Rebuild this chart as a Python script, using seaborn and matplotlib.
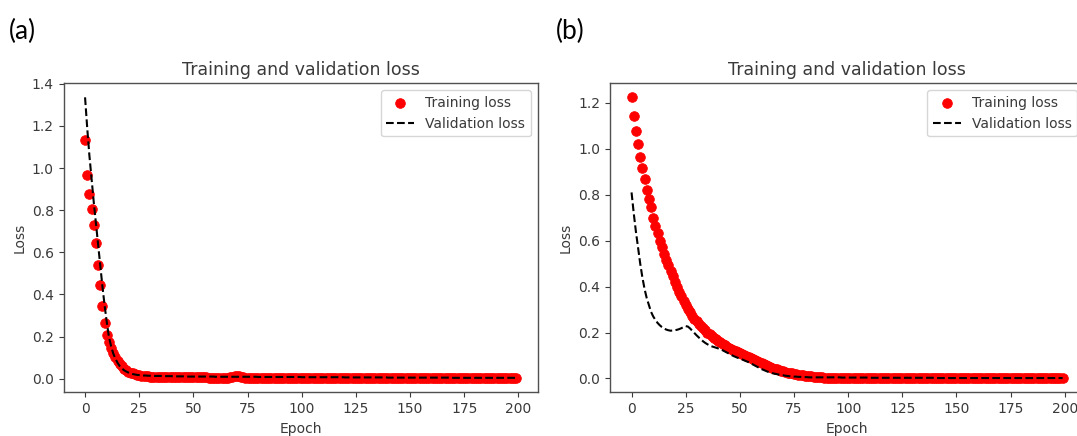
import matplotlib
matplotlib.use("Agg")
import matplotlib.pyplot as plt
import seaborn as sns
import numpy as np

# ---------------- data ----------------
epochs = list(range(200))

train_a = [
    1.134, 0.965, 0.877, 0.808, 0.731, 0.643, 0.540, 0.444, 0.346, 0.265,
    0.206, 0.175, 0.148, 0.124, 0.103, 0.085, 0.070, 0.058, 0.048, 0.040,
    0.034, 0.029, 0.025, 0.021, 0.018, 0.016, 0.014, 0.013, 0.012, 0.011,
    0.010, 0.010, 0.009, 0.009, 0.009, 0.008, 0.008, 0.008, 0.008, 0.007,
    0.007, 0.007, 0.007, 0.007, 0.006, 0.006, 0.006, 0.006, 0.006, 0.006,
    0.006, 0.006, 0.007, 0.008, 0.008, 0.007, 0.006, 0.005, 0.005, 0.005,
    0.005, 0.005, 0.005, 0.005, 0.005, 0.005, 0.005, 0.006, 0.008, 0.011,
    0.013, 0.012, 0.009, 0.006, 0.005, 0.004, 0.004, 0.004, 0.004, 0.004,
    0.004, 0.004, 0.004, 0.004, 0.004, 0.004, 0.003, 0.004, 0.004, 0.003,
    0.003, 0.004, 0.003, 0.003, 0.003, 0.003, 0.003, 0.003, 0.003, 0.003,
    0.003, 0.003, 0.003, 0.003, 0.003, 0.003, 0.003, 0.003, 0.003, 0.003,
    0.003, 0.003, 0.003, 0.003, 0.003, 0.003, 0.003, 0.003, 0.003, 0.003,
    0.003, 0.003, 0.003, 0.003, 0.003, 0.003, 0.003, 0.003, 0.003, 0.003,
    0.003, 0.003, 0.003, 0.003, 0.003, 0.002, 0.003, 0.003, 0.002, 0.002,
    0.002, 0.002, 0.002, 0.002, 0.002, 0.002, 0.002, 0.002, 0.002, 0.002,
    0.002, 0.002, 0.002, 0.002, 0.002, 0.002, 0.002, 0.002, 0.002, 0.002,
    0.002, 0.002, 0.002, 0.002, 0.002, 0.002, 0.002, 0.002, 0.002, 0.002,
    0.002, 0.002, 0.002, 0.002, 0.002, 0.002, 0.002, 0.002, 0.002, 0.002,
    0.002, 0.002, 0.002, 0.002, 0.002, 0.002, 0.002, 0.002, 0.002, 0.002,
    0.002, 0.002, 0.002, 0.002, 0.002, 0.002, 0.002, 0.002, 0.002, 0.002,
]

val_a = [
    1.336, 1.190, 1.060, 0.950, 0.840, 0.740, 0.640, 0.540, 0.440, 0.350,
    0.270, 0.200, 0.155, 0.120, 0.095, 0.075, 0.060, 0.049, 0.040, 0.034,
    0.029, 0.025, 0.022, 0.020, 0.018, 0.017, 0.016, 0.015, 0.015, 0.014,
    0.014, 0.014, 0.013, 0.013, 0.013, 0.013, 0.012, 0.012, 0.012, 0.012,
    0.012, 0.011, 0.011, 0.011, 0.011, 0.011, 0.011, 0.010, 0.010, 0.010,
    0.010, 0.010, 0.010, 0.010, 0.010, 0.010, 0.010, 0.010, 0.010, 0.010,
    0.009, 0.009, 0.009, 0.009, 0.009, 0.009, 0.009, 0.009, 0.009, 0.009,
    0.009, 0.009, 0.009, 0.009, 0.009, 0.009, 0.009, 0.009, 0.009, 0.009,
    0.008, 0.008, 0.008, 0.008, 0.008, 0.008, 0.008, 0.008, 0.008, 0.008,
    0.008, 0.008, 0.008, 0.008, 0.008, 0.008, 0.008, 0.008, 0.008, 0.008,
    0.007, 0.007, 0.007, 0.007, 0.007, 0.007, 0.007, 0.007, 0.007, 0.007,
    0.007, 0.007, 0.007, 0.007, 0.007, 0.007, 0.007, 0.007, 0.007, 0.007,
    0.006, 0.006, 0.006, 0.006, 0.006, 0.006, 0.006, 0.006, 0.006, 0.006,
    0.006, 0.006, 0.006, 0.006, 0.006, 0.006, 0.006, 0.006, 0.006, 0.006,
    0.005, 0.005, 0.005, 0.005, 0.005, 0.005, 0.005, 0.005, 0.005, 0.005,
    0.005, 0.005, 0.005, 0.005, 0.005, 0.005, 0.005, 0.005, 0.005, 0.005,
    0.005, 0.005, 0.005, 0.005, 0.005, 0.005, 0.005, 0.005, 0.005, 0.005,
    0.004, 0.004, 0.004, 0.004, 0.004, 0.004, 0.004, 0.004, 0.004, 0.004,
    0.004, 0.004, 0.004, 0.004, 0.004, 0.004, 0.004, 0.004, 0.004, 0.004,
    0.004, 0.004, 0.004, 0.004, 0.004, 0.004, 0.004, 0.004, 0.004, 0.004,
]

train_b = [
    1.224, 1.144, 1.076, 1.021, 0.966, 0.915, 0.868, 0.819, 0.781, 0.745,
    0.700, 0.665, 0.632, 0.600, 0.571, 0.543, 0.517, 0.492, 0.468, 0.446,
    0.420, 0.398, 0.377, 0.357, 0.338, 0.320, 0.303, 0.288, 0.274, 0.261,
    0.249, 0.238, 0.228, 0.218, 0.209, 0.200, 0.192, 0.184, 0.177, 0.170,
    0.163, 0.157, 0.151, 0.145, 0.139, 0.134, 0.129, 0.124, 0.119, 0.114,
    0.110, 0.106, 0.102, 0.098, 0.094, 0.089, 0.084, 0.079, 0.075, 0.071,
    0.066, 0.062, 0.058, 0.054, 0.050, 0.046, 0.043, 0.040, 0.037, 0.034,
    0.031, 0.028, 0.026, 0.024, 0.022, 0.020, 0.018, 0.016, 0.015, 0.013,
    0.012, 0.011, 0.010, 0.009, 0.008, 0.007, 0.006, 0.006, 0.005, 0.004,
    0.004, 0.003, 0.003, 0.003, 0.002, 0.002, 0.002, 0.002, 0.001, 0.001,
    0.001, 0.001, 0.001, 0.001, 0.001, 0.001, 0.001, 0.001, 0.001, 0.001,
    0.001, 0.001, 0.001, 0.001, 0.001, 0.001, 0.001, 0.001, 0.001, 0.001,
    0.001, 0.001, 0.001, 0.001, 0.001, 0.001, 0.001, 0.001, 0.001, 0.001,
    0.001, 0.001, 0.001, 0.001, 0.001, 0.001, 0.001, 0.001, 0.001, 0.001,
    0.001, 0.001, 0.001, 0.001, 0.001, 0.001, 0.001, 0.001, 0.001, 0.001,
    0.001, 0.001, 0.001, 0.001, 0.001, 0.001, 0.001, 0.001, 0.001, 0.001,
    0.001, 0.001, 0.001, 0.001, 0.001, 0.001, 0.001, 0.001, 0.001, 0.001,
    0.001, 0.001, 0.001, 0.001, 0.001, 0.001, 0.001, 0.001, 0.001, 0.001,
    0.001, 0.001, 0.001, 0.001, 0.001, 0.001, 0.001, 0.001, 0.001, 0.001,
    0.001, 0.001, 0.001, 0.001, 0.001, 0.001, 0.001, 0.001, 0.001, 0.001,
]

val_b = [
    0.810, 0.720, 0.640, 0.570, 0.500, 0.440, 0.390, 0.350, 0.320, 0.290,
    0.270, 0.255, 0.242, 0.232, 0.224, 0.218, 0.213, 0.210, 0.208, 0.209,
    0.210, 0.212, 0.215, 0.219, 0.224, 0.228, 0.226, 0.218, 0.208, 0.198,
    0.188, 0.179, 0.170, 0.162, 0.155, 0.149, 0.144, 0.140, 0.137, 0.134,
    0.131, 0.127, 0.123, 0.118, 0.113, 0.108, 0.103, 0.098, 0.094, 0.090,
    0.087, 0.083, 0.079, 0.075, 0.071, 0.066, 0.061, 0.056, 0.051, 0.046,
    0.041, 0.037, 0.033, 0.029, 0.026, 0.023, 0.021, 0.019, 0.017, 0.015,
    0.014, 0.012, 0.011, 0.010, 0.009, 0.008, 0.008, 0.007, 0.007, 0.006,
    0.006, 0.006, 0.005, 0.005, 0.005, 0.005, 0.005, 0.005, 0.005, 0.005,
    0.005, 0.005, 0.005, 0.005, 0.005, 0.005, 0.005, 0.004, 0.004, 0.004,
    0.004, 0.004, 0.004, 0.004, 0.004, 0.004, 0.004, 0.004, 0.004, 0.004,
    0.003, 0.003, 0.003, 0.003, 0.003, 0.003, 0.003, 0.003, 0.003, 0.003,
    0.003, 0.003, 0.003, 0.003, 0.003, 0.003, 0.003, 0.003, 0.003, 0.003,
    0.003, 0.003, 0.003, 0.003, 0.003, 0.003, 0.003, 0.003, 0.003, 0.003,
    0.002, 0.002, 0.002, 0.002, 0.002, 0.002, 0.002, 0.002, 0.002, 0.002,
    0.002, 0.002, 0.002, 0.002, 0.002, 0.002, 0.002, 0.002, 0.002, 0.002,
    0.002, 0.002, 0.002, 0.002, 0.002, 0.002, 0.002, 0.002, 0.002, 0.002,
    0.002, 0.002, 0.002, 0.002, 0.002, 0.002, 0.002, 0.002, 0.002, 0.002,
    0.002, 0.002, 0.002, 0.002, 0.002, 0.002, 0.002, 0.002, 0.002, 0.002,
    0.002, 0.002, 0.002, 0.002, 0.002, 0.002, 0.002, 0.002, 0.002, 0.002,
]

panel_labels = ["(a)", "(b)"]
title_text = "Training and validation loss"
xlabel_text = "Epoch"
ylabel_text = "Loss"
train_label = "Training loss"
val_label = "Validation loss"

# ---------------- figure ----------------
W, H = 1077, 436
fig = plt.figure(figsize=(W / 100, H / 100), dpi=100)
fig.patch.set_facecolor("white")

text_col = "#3a3a3a"
plt.rcParams["text.color"] = text_col
plt.rcParams["axes.labelcolor"] = text_col
plt.rcParams["xtick.color"] = text_col
plt.rcParams["ytick.color"] = text_col

ax_h = (392.3 - 83.3) / H
ax_b = 1 - 392.3 / H
ax_w = (537.7 - 63.5) / W
positions = [(63.5 / W, ax_b, ax_w, ax_h), (610.0 / W, ax_b, ax_w, ax_h)]
label_pos = [(9 / W, 1 - 31 / H), (556 / W, 1 - 31 / H)]

datasets = [(train_a, val_a), (train_b, val_b)]

for i, (tr, va) in enumerate(datasets):
    ax = fig.add_axes(positions[i])
    sns.scatterplot(x=epochs, y=tr, ax=ax, color="red", s=48,
                    edgecolor="red", linewidth=0.6, label=train_label,
                    legend=False)
    sns.lineplot(x=epochs, y=va, ax=ax, color="black", linestyle="--",
                 linewidth=1.5, label=val_label, legend=False)
    ax.set_title(title_text, fontsize=12.5, color=text_col)
    ax.set_xlabel(xlabel_text, fontsize=10)
    ax.set_ylabel(ylabel_text, fontsize=10)
    ax.tick_params(labelsize=10, colors=text_col)
    for sp in ax.spines.values():
        sp.set_color("#505050")
        sp.set_linewidth(1.0)
    ax.set_xticks([0, 25, 50, 75, 100, 125, 150, 175, 200])
    h, l = ax.get_legend_handles_labels()
    ax.legend(h, l, loc="upper right", fontsize=10)
    fig.text(label_pos[i][0], label_pos[i][1], panel_labels[i],
             fontsize=19, family="Lato", color="black", va="center", ha="left")

fig.savefig("out.png", dpi=100)
